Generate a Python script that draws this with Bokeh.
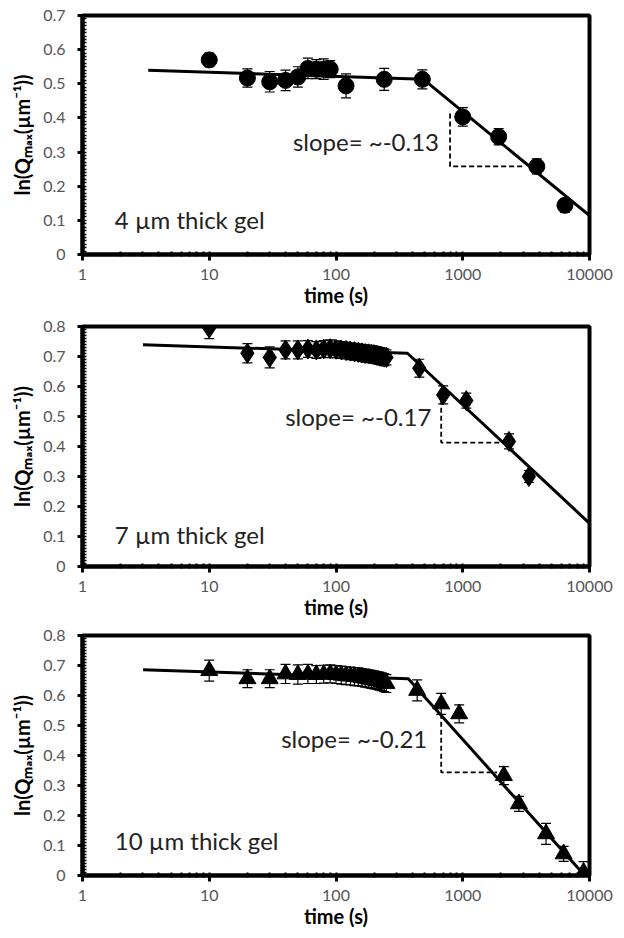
from bokeh.plotting import figure
from bokeh.layouts import column
from bokeh.models import (ColumnDataSource, Whisker, TeeHead, Range1d, LogTicker,
                          SingleIntervalTicker, PrintfTickFormatter, Label)
from bokeh.embed import file_html
from bokeh.resources import INLINE

# ---------------- data ----------------
# Panel 1: 4 um thick gel (circles)
t4 = [10, 20, 30, 40, 50, 60, 70, 80, 90, 120, 240, 480, 1000, 1920, 3840, 6400]
q4 = [0.570, 0.517, 0.506, 0.510, 0.520, 0.545, 0.543, 0.543, 0.543, 0.494, 0.513, 0.513,
      0.403, 0.345, 0.258, 0.144]
e4 = [0.020, 0.027, 0.030, 0.030, 0.030, 0.030, 0.028, 0.030, 0.025, 0.035, 0.032, 0.028,
      0.027, 0.024, 0.022, 0.020]
fit4_t = [3.3, 490, 10000]
fit4_q = [0.540, 0.513, 0.114]
tri4_t = [794, 794, 2985]
tri4_q = [0.413, 0.258, 0.258]

# Panel 2: 7 um thick gel (diamonds)
t7 = [10, 20, 30, 40, 50, 60, 70, 80, 90, 100, 110, 120, 130, 140, 150, 160, 170, 180, 190,
      200, 210, 220, 230, 240, 250, 454, 701, 1067, 2316, 3327]
q7 = [0.795, 0.711, 0.697, 0.722, 0.722, 0.725, 0.722, 0.725, 0.726, 0.724, 0.722, 0.720,
      0.718, 0.716, 0.714, 0.712, 0.710, 0.709, 0.708, 0.706, 0.704, 0.702, 0.700, 0.698,
      0.697, 0.661, 0.572, 0.553, 0.417, 0.300]
e7 = [0.035, 0.032, 0.035, 0.030, 0.030, 0.028, 0.028, 0.028, 0.030, 0.028, 0.028, 0.028,
      0.028, 0.028, 0.028, 0.028, 0.028, 0.028, 0.028, 0.028, 0.028, 0.028, 0.028, 0.028,
      0.025, 0.030, 0.030, 0.025, 0.025, 0.020]
fit7_t = [3.0, 366, 10000]
fit7_q = [0.739, 0.711, 0.144]
tri7_t = [676, 676, 2235]
tri7_q = [0.556, 0.413, 0.413]

# Panel 3: 10 um thick gel (triangles)
t10 = [10, 20, 30, 40, 50, 60, 70, 80, 90, 100, 110, 120, 130, 140, 150, 160, 170, 180, 190,
       200, 210, 220, 230, 240, 250, 437, 676, 937, 2110, 2775, 4540, 6250, 8970]
q10 = [0.683, 0.656, 0.656, 0.672, 0.670, 0.672, 0.670, 0.671, 0.672, 0.670, 0.668, 0.666,
       0.665, 0.663, 0.662, 0.660, 0.658, 0.656, 0.654, 0.652, 0.650, 0.648, 0.646, 0.643,
       0.640, 0.617, 0.572, 0.539, 0.333, 0.239, 0.139, 0.072, 0.011]
e10 = [0.035, 0.030, 0.030, 0.032, 0.032, 0.032, 0.030, 0.030, 0.030, 0.030, 0.030, 0.030,
       0.030, 0.030, 0.030, 0.030, 0.030, 0.030, 0.030, 0.030, 0.030, 0.030, 0.030, 0.030,
       0.030, 0.035, 0.035, 0.030, 0.030, 0.025, 0.035, 0.025, 0.035]
fit10_t = [3.0, 372, 9170]
fit10_q = [0.686, 0.656, 0.0]
tri10_t = [676, 676, 1866]
tri10_q = [0.539, 0.344, 0.344]

slopes = ["slope= ~-0.13", "slope= ~-0.17", "slope= ~-0.21"]
gels = ["4 \u00b5m thick gel", "7 \u00b5m thick gel", "10 \u00b5m thick gel"]
y_label = "ln(Q\u2098\u2090\u2093(\u00b5m\u207b\u00b9))"
x_label = "time (s)"

FONT = "Lato"


def make_panel(t, q, e, fit_t, fit_q, tri_t, tri_q, marker, msize, ymax,
               slope_txt, slope_x, slope_y, gel_txt, gel_y, h, btop, bbot):
    p = figure(width=620, height=h, x_axis_type="log", output_backend="svg",
               toolbar_location=None, min_border_left=82, min_border_right=31,
               min_border_top=btop, min_border_bottom=bbot,
               x_range=Range1d(1, 10000), y_range=Range1d(0, ymax + 0.0001))
    p.background_fill_color = "white"
    p.border_fill_color = "white"
    p.outline_line_color = "black"
    p.outline_line_width = 4
    p.grid.visible = False

    lo = [a - b for a, b in zip(q, e)]
    hi = [a + b for a, b in zip(q, e)]
    src = ColumnDataSource(dict(t=t, q=q, lo=lo, hi=hi))

    p.line(fit_t, fit_q, line_color="black", line_width=3)
    p.line(tri_t, tri_q, line_color="black", line_width=1.8, line_dash="5 3")

    w = Whisker(source=src, base="t", upper="hi", lower="lo", dimension="height",
                line_color="black", line_width=1.2,
                upper_head=TeeHead(size=10, line_color="black", line_width=1.2),
                lower_head=TeeHead(size=10, line_color="black", line_width=1.2))
    p.add_layout(w)
    p.scatter("t", "q", source=src, marker=marker, size=msize,
              fill_color="black", line_color="black")

    p.add_layout(Label(x=slope_x, y=slope_y, text=slope_txt, text_align="right",
                       text_baseline="middle", text_font=FONT, text_font_size="24px",
                       text_color="#222222"))
    p.add_layout(Label(x=1.8, y=gel_y, text=gel_txt, text_align="left",
                       text_baseline="middle", text_font=FONT, text_font_size="24px",
                       text_color="#222222"))

    xa = p.xaxis[0]
    xa.ticker = LogTicker(num_minor_ticks=10)
    xa.formatter = PrintfTickFormatter(format="%d")
    xa.axis_label = x_label
    xa.axis_label_text_font = FONT
    xa.axis_label_text_font_style = "bold"
    xa.axis_label_text_font_size = "20px"
    xa.axis_label_text_color = "black"
    xa.axis_label_standoff = 0
    xa.major_label_text_font = FONT
    xa.major_label_text_font_size = "16px"
    xa.major_label_text_color = "#555555"
    xa.major_label_standoff = 8
    xa.axis_line_width = 4
    xa.major_tick_in = 0
    xa.major_tick_out = 6
    xa.major_tick_line_width = 3
    xa.minor_tick_in = 3
    xa.minor_tick_out = 2
    xa.minor_tick_line_width = 2

    ya = p.yaxis[0]
    ya.ticker = SingleIntervalTicker(interval=0.1, num_minor_ticks=10)
    ya.formatter = PrintfTickFormatter(format="%.1f")
    ya.major_label_overrides = {0: "0"}
    ya.axis_label = y_label
    ya.axis_label_text_font = FONT
    ya.axis_label_text_font_style = "bold"
    ya.axis_label_text_font_size = "20px"
    ya.axis_label_text_color = "black"
    ya.axis_label_standoff = 6
    ya.major_label_text_font = FONT
    ya.major_label_text_font_size = "16px"
    ya.major_label_text_color = "#555555"
    ya.major_label_standoff = 12
    ya.axis_line_width = 4
    ya.major_tick_in = 0
    ya.major_tick_out = 5
    ya.major_tick_line_width = 3
    ya.minor_tick_in = 4
    ya.minor_tick_out = 0
    ya.minor_tick_line_width = 1.5
    return p


p1 = make_panel(t4, q4, e4, fit4_t, fit4_q, tri4_t, tri4_q, "circle", 16, 0.7,
                slopes[0], 650, 0.33, gels[0], 0.102, 312, 15, 58)
p2 = make_panel(t7, q7, e7, fit7_t, fit7_q, tri7_t, tri7_q, "diamond", 20, 0.8,
                slopes[1], 565, 0.50, gels[1], 0.106, 310, 14, 56)
p3 = make_panel(t10, q10, e10, fit10_t, fit10_q, tri10_t, tri10_q, "triangle", 17, 0.8,
                slopes[2], 525, 0.456, gels[2], 0.117, 316, 13, 63)

layout = column(p1, p2, p3, spacing=0)
open("out.html", "w").write(file_html(layout, INLINE))
